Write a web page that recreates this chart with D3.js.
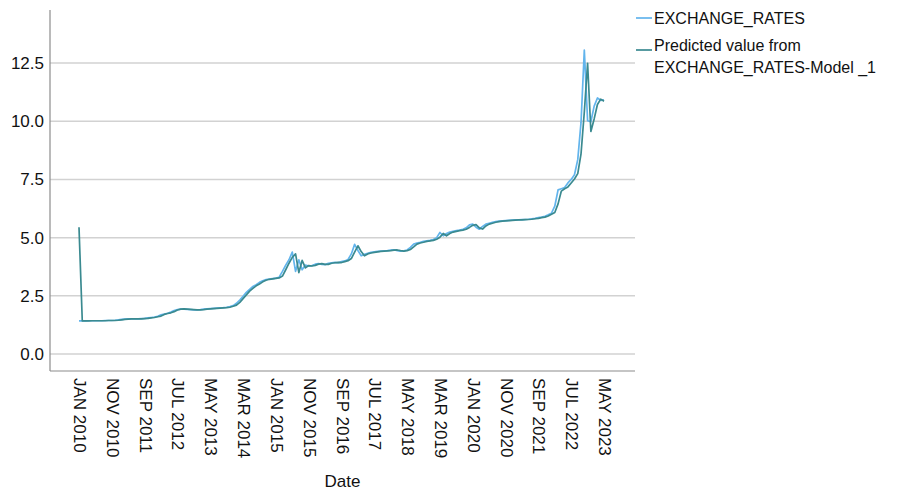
<!DOCTYPE html>
<html>
<head>
<meta charset="utf-8">
<script src="https://cdn.jsdelivr.net/npm/d3@7"></script>
<style>
  html, body { margin: 0; padding: 0; background: #fff; }
  svg { display: block; font-family: "Liberation Sans", Arial, sans-serif; }
</style>
</head>
<body>
<svg id="chart" width="914" height="489"></svg>
<script>
// Monthly series, Jan 2010 .. May 2023 (161 months)
const exchangeRates = [
  // 2010
  1.42,1.42,1.42,1.43,1.43,1.43,1.43,1.43,1.44,1.44,1.44,1.45,
  // 2011
  1.47,1.49,1.50,1.51,1.51,1.51,1.51,1.52,1.53,1.55,1.57,1.59,
  // 2012
  1.62,1.68,1.72,1.75,1.80,1.87,1.91,1.93,1.93,1.92,1.91,1.90,
  // 2013
  1.90,1.91,1.93,1.94,1.95,1.96,1.97,1.98,1.99,2.01,2.04,2.08,
  // 2014
  2.18,2.32,2.48,2.65,2.78,2.90,2.98,3.08,3.15,3.20,3.22,3.24,
  // 2015
  3.26,3.30,3.55,3.82,4.05,4.38,3.55,4.05,3.62,3.82,3.78,3.80,
  // 2016
  3.86,3.88,3.85,3.84,3.90,3.92,3.94,3.92,3.97,4.00,4.06,4.30,
  // 2017
  4.71,4.45,4.22,4.28,4.33,4.37,4.39,4.41,4.42,4.43,4.44,4.46,
  // 2018
  4.48,4.44,4.42,4.43,4.47,4.58,4.72,4.77,4.80,4.84,4.86,4.88,
  // 2019
  4.92,5.00,5.22,5.08,5.18,5.24,5.27,5.30,5.32,5.36,5.42,5.55,
  // 2020
  5.58,5.45,5.36,5.48,5.58,5.62,5.66,5.69,5.71,5.72,5.73,5.74,
  // 2021
  5.75,5.76,5.76,5.77,5.78,5.79,5.81,5.83,5.86,5.88,5.92,5.98,
  // 2022
  6.05,6.35,7.05,7.10,7.15,7.35,7.50,7.70,8.35,9.95,13.06,10.02,
  // 2023
  9.98,10.65,11.00,10.90,10.92
];

const predictedModel1 = [
  // 2010
  5.45,1.42,1.42,1.42,1.43,1.43,1.43,1.43,1.43,1.44,1.44,1.44,
  // 2011
  1.45,1.47,1.49,1.50,1.51,1.51,1.51,1.51,1.52,1.53,1.55,1.57,
  // 2012
  1.60,1.63,1.70,1.74,1.77,1.82,1.89,1.93,1.94,1.93,1.92,1.91,
  // 2013
  1.90,1.90,1.91,1.93,1.94,1.95,1.96,1.97,1.98,1.99,2.01,2.05,
  // 2014
  2.10,2.22,2.38,2.54,2.70,2.82,2.93,3.01,3.10,3.17,3.21,3.23,
  // 2015
  3.25,3.27,3.35,3.62,3.90,4.15,4.30,3.50,4.02,3.70,3.80,3.78,
  // 2016
  3.81,3.86,3.88,3.85,3.85,3.90,3.92,3.94,3.93,3.97,4.01,4.10,
  // 2017
  4.38,4.65,4.40,4.22,4.30,4.34,4.37,4.39,4.41,4.42,4.43,4.44,
  // 2018
  4.46,4.47,4.44,4.42,4.44,4.49,4.60,4.72,4.77,4.80,4.84,4.86,
  // 2019
  4.88,4.93,5.02,5.18,5.08,5.18,5.24,5.27,5.30,5.32,5.36,5.44,
  // 2020
  5.53,5.56,5.42,5.37,5.50,5.58,5.62,5.66,5.69,5.71,5.72,5.73,
  // 2021
  5.74,5.75,5.76,5.76,5.77,5.78,5.79,5.81,5.83,5.86,5.88,5.93,
  // 2022
  6.00,6.08,6.45,7.00,7.10,7.18,7.35,7.52,7.75,8.60,10.40,12.49,
  // 2023
  9.56,10.10,10.72,10.95,10.86
];

const xTickLabels = [
  "JAN 2010","NOV 2010","SEP 2011","JUL 2012","MAY 2013","MAR 2014",
  "JAN 2015","NOV 2015","SEP 2016","JUL 2017","MAY 2018","MAR 2019",
  "JAN 2020","NOV 2020","SEP 2021","JUL 2022","MAY 2023"
];
const xTickMonthIndex = [0,10,20,30,40,50,60,70,80,90,100,110,120,130,140,150,160];
const yTicks = [0, 2.5, 5, 7.5, 10, 12.5];

const seriesNames = ["EXCHANGE_RATES", ["Predicted value from", "EXCHANGE_RATES-Model _1"]];
const seriesColors = ["#62b4ec", "#3a8a90"];

const svg = d3.select("#chart");
const FONT = "Liberation Sans, Arial, sans-serif";

const plot = { left: 50, right: 635, top: 10, bottom: 371 };

// month index -> x
const x = d3.scaleLinear().domain([0, 160]).range([79, 604]);
const y = d3.scaleLinear().domain([-0.73, 14.78]).range([plot.bottom, plot.top]);

// horizontal gridlines
svg.append("g")
  .selectAll("line")
  .data(yTicks)
  .join("line")
  .attr("x1", plot.left)
  .attr("x2", plot.right)
  .attr("y1", d => y(d))
  .attr("y2", d => y(d))
  .attr("stroke", "#d2d2d2")
  .attr("stroke-width", 1.5);

// y axis
const yAxis = d3.axisLeft(y).tickValues(yTicks).tickFormat(d3.format(".1f")).tickSize(0).tickPadding(6);
const yG = svg.append("g").attr("transform", `translate(${plot.left},0)`).call(yAxis);
yG.select(".domain").remove();
yG.selectAll("text").attr("font-size", 17).attr("fill", "#111").attr("font-family", FONT);

// x axis (rotated month labels)
const xAxis = d3.axisBottom(x).tickValues(xTickMonthIndex)
  .tickFormat((d, i) => xTickLabels[i]).tickSize(0).tickPadding(0);
const xG = svg.append("g").attr("transform", `translate(0,${plot.bottom})`).call(xAxis);
xG.select(".domain").remove();
xG.selectAll("text")
  .attr("font-size", 17)
  .attr("fill", "#111")
  .attr("font-family", FONT)
  .attr("text-anchor", "start")
  .attr("dy", null)
  .attr("y", 0)
  .attr("dominant-baseline", "central")
  .attr("transform", "translate(0,7) rotate(90)");

// axis lines
svg.append("line")
  .attr("x1", plot.left).attr("x2", plot.left)
  .attr("y1", plot.top).attr("y2", plot.bottom)
  .attr("stroke", "#8c8c8c").attr("stroke-width", 1.2);
svg.append("line")
  .attr("x1", plot.left).attr("x2", plot.right)
  .attr("y1", plot.bottom).attr("y2", plot.bottom)
  .attr("stroke", "#8c8c8c").attr("stroke-width", 1.2);

// series lines
const line = d3.line().x((d, i) => x(i)).y(d => y(d));
[exchangeRates, predictedModel1].forEach((s, k) => {
  svg.append("path")
    .datum(s)
    .attr("fill", "none")
    .attr("stroke", seriesColors[k])
    .attr("stroke-width", 1.7)
    .attr("stroke-linejoin", "round")
    .attr("d", line);
});

// x axis title
svg.append("text")
  .attr("x", (plot.left + plot.right) / 2)
  .attr("y", 481)
  .attr("text-anchor", "middle")
  .attr("dominant-baseline", "central")
  .attr("font-size", 17)
  .attr("fill", "#111")
  .text("Date");

// legend
const legend = svg.append("g");
const legendRows = [{ lineY: 18, textY: [18] }, { lineY: 50, textY: [45, 67] }];
legendRows.forEach((r, k) => {
  legend.append("line")
    .attr("x1", 636).attr("x2", 652)
    .attr("y1", r.lineY).attr("y2", r.lineY)
    .attr("stroke", seriesColors[k]).attr("stroke-width", 1.7);
  const names = Array.isArray(seriesNames[k]) ? seriesNames[k] : [seriesNames[k]];
  names.forEach((t, j) => {
    legend.append("text")
      .attr("x", 654)
      .attr("y", r.textY[j])
      .attr("dominant-baseline", "central")
      .attr("font-size", 16)
      .attr("fill", "#111")
      .text(t);
  });
});
</script>
</body>
</html>
